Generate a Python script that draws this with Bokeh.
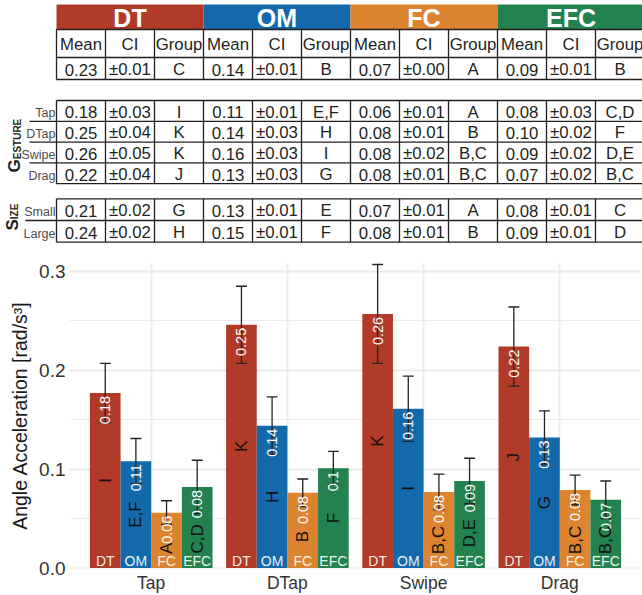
import numpy as np
from bokeh.plotting import figure
from bokeh.models import Range1d, FixedTicker, PrintfTickFormatter
from bokeh.core.properties import value
from bokeh.embed import file_html
from bokeh.resources import INLINE

# ---------------- data ----------------
conditions = ["DT", "OM", "FC", "EFC"]
colors = ["#B23A29", "#1469AA", "#DC842F", "#23824E"]
gestures = ["Tap", "DTap", "Swipe", "Drag"]
sizes = ["Small", "Large"]
col_heads = ["Mean", "CI", "Group"]

# bar chart (per condition, in gesture order)
mean_DT = [0.177, 0.246, 0.257, 0.224]
mean_OM = [0.108, 0.144, 0.161, 0.132]
mean_FC = [0.056, 0.076, 0.077, 0.079]
mean_EFC = [0.082, 0.101, 0.088, 0.069]
ci_DT = [0.030, 0.039, 0.050, 0.040]
ci_OM = [0.023, 0.029, 0.033, 0.027]
ci_FC = [0.012, 0.014, 0.018, 0.015]
ci_EFC = [0.027, 0.017, 0.023, 0.019]
grp_DT = ["I", "K", "K", "J"]
grp_OM = ["E,F", "H", "I", "G"]
grp_FC = ["A", "B", "B,C", "B,C"]
grp_EFC = ["C,D", "F", "D,E", "B,C"]

# table rows (Mean, CI, Group) x (DT, OM, FC, EFC)
row_overall = ["0.23", "±0.01", "C", "0.14", "±0.01", "B", "0.07", "±0.00", "A", "0.09", "±0.01", "B"]
row_tap = ["0.18", "±0.03", "I", "0.11", "±0.01", "E,F", "0.06", "±0.01", "A", "0.08", "±0.03", "C,D"]
row_dtap = ["0.25", "±0.04", "K", "0.14", "±0.03", "H", "0.08", "±0.01", "B", "0.10", "±0.02", "F"]
row_swipe = ["0.26", "±0.05", "K", "0.16", "±0.03", "I", "0.08", "±0.02", "B,C", "0.09", "±0.02", "D,E"]
row_drag = ["0.22", "±0.04", "J", "0.13", "±0.03", "G", "0.08", "±0.01", "B,C", "0.07", "±0.02", "B,C"]
row_small = ["0.21", "±0.02", "G", "0.13", "±0.01", "E", "0.07", "±0.01", "A", "0.08", "±0.01", "C"]
row_large = ["0.24", "±0.02", "H", "0.15", "±0.01", "F", "0.08", "±0.01", "B", "0.09", "±0.01", "D"]

means = [mean_DT, mean_OM, mean_FC, mean_EFC]
cis = [ci_DT, ci_OM, ci_FC, ci_EFC]
grps = [grp_DT, grp_OM, grp_FC, grp_EFC]

FONT = value("Liberation Sans")
INK = "#231F20"
MID = 0.35  # em-box middle above the baseline

# ---------------- table figure ----------------
W, TH = 642, 250
t = figure(width=W, height=TH, x_range=Range1d(0, W), y_range=Range1d(-TH, 0),
           output_backend="svg", toolbar_location=None, x_axis_type=None, y_axis_type=None,
           title=None,
           min_border=0, min_border_left=0, min_border_right=0, min_border_top=0, min_border_bottom=0)
t.grid.visible = False
t.outline_line_color = None

TX0, CW = 56, 49
ncol = 12
col_x = [TX0 + CW * j + CW / 2 for j in range(ncol)]
x_edges = [TX0 + CW * j for j in range(ncol + 1)]
GW = 3 * CW


def Y(v):
    return -v


# header bands
t.quad(left=[TX0 + GW * i for i in range(4)], right=[TX0 + GW * (i + 1) for i in range(4)],
       top=Y(4), bottom=Y(29), fill_color=colors, line_color=None)
t.text(x=[TX0 + GW * i + GW / 2 for i in range(4)], y=Y(17.2), text=conditions,
       text_font=FONT, text_font_style="bold", text_font_size="25px", text_color="white",
       text_align="center", text_baseline="middle")

TFS = 16.8


def draw_block(top, heights, rows, labels=None, label_x0=None):
    edges = [top]
    for h in heights:
        edges.append(edges[-1] + h)
    x0s, y0s, x1s, y1s = [], [], [], []
    for k, e in enumerate(edges):
        left = TX0
        if labels is not None and 0 < k < len(edges) - 1:
            left = label_x0
        x0s.append(left); x1s.append(x_edges[-1]); y0s.append(Y(e)); y1s.append(Y(e))
    for xe in x_edges:
        x0s.append(xe); x1s.append(xe); y0s.append(Y(edges[0])); y1s.append(Y(edges[-1]))
    t.segment(x0=x0s, y0=y0s, x1=x1s, y1=y1s, line_color=INK, line_width=1.3)
    for k, row in enumerate(rows):
        cy = (edges[k] + edges[k + 1]) / 2
        t.text(x=col_x, y=Y(cy + 1.2), text=row, text_font=FONT, text_font_size=f"{TFS}px",
               text_color=INK, text_align="center", text_baseline="middle")
        if labels is not None:
            t.text(x=[55], y=[Y(edges[k + 1] - 8.2)], text=[labels[k]], text_font=FONT,
                   text_font_size="12.5px", text_color="#4D4D4D", text_align="right",
                   text_baseline="middle")
    return edges


draw_block(29, [28, 22], [col_heads * 4, row_overall])
draw_block(100, [20.8] * 4, [row_tap, row_dtap, row_swipe, row_drag], gestures, 29)
draw_block(198.3, [21.7] * 2, [row_small, row_large], sizes, 25)


def small_caps(word, xb, ystart, big=17, small=10):
    # xb: common baseline (glyph tops point left); ystart: where the word begins (bottom)
    first, rest = word[0], word[1:]
    wfirst = {"G": 0.778, "S": 0.667}[first] * big
    t.text(x=[xb - MID * big], y=[Y(ystart)], text=[first], angle=np.pi / 2, text_font=FONT,
           text_font_style="bold", text_font_size=f"{big}px", text_color=INK,
           text_align="left", text_baseline="middle")
    t.text(x=[xb - MID * small], y=[Y(ystart - wfirst)], text=[rest], angle=np.pi / 2,
           text_font=FONT, text_font_style="bold", text_font_size=f"{small}px",
           text_color=INK, text_align="left", text_baseline="middle")


small_caps("GESTURE", 20, 172)
small_caps("SIZE", 17.5, 230)

# ---------------- bar chart ----------------
PH = 345
YMIN, YMAX = -0.0005, 0.309
p = figure(width=W, height=PH, x_range=Range1d(0.4, 4.6), y_range=Range1d(YMIN, YMAX),
           output_backend="svg", toolbar_location=None,
           min_border_left=69, min_border_right=1, min_border_top=12, min_border_bottom=24)
p.outline_line_color = None

cat_x = np.arange(1, len(gestures) + 1)
bw = 0.9 / 4
offsets = [(-1.5 + i) * bw for i in range(4)]
PX = (YMAX - YMIN) / (PH - 12 - 24)  # data units per pixel (vertical)

CHARW = {",": 0.278, "I": 0.278, "J": 0.5}


def tw(s, fs):
    return sum(CHARW.get(c, 0.70 if c.isalpha() else 0.556) for c in s) * fs


VFS = 14.5   # value labels
GFS = 17     # group letters
BFS = 14     # condition names at the bar bottom
for i, cond in enumerate(conditions):
    xs = cat_x + offsets[i]
    m = np.array(means[i])
    c = np.array(cis[i])
    p.vbar(x=xs, top=m, bottom=0, width=bw, fill_color=colors[i], line_color=None)
    lo, hi = m - c, m + c
    p.segment(x0=xs, y0=lo, x1=xs, y1=hi, line_color="#222222", line_width=1.3)
    cap = 0.04
    p.segment(x0=xs - cap, y0=hi, x1=xs + cap, y1=hi, line_color="#222222", line_width=1.3)
    p.segment(x0=xs - cap, y0=lo, x1=xs + cap, y1=lo, line_color="#222222", line_width=1.3)

for i, cond in enumerate(conditions):
    xs = cat_x + offsets[i]
    m = np.array(means[i])
    vlabels = [str(round(v, 2)) for v in means[i]]
    p.text(x=xs, y=m - 3 * PX, text=vlabels, angle=np.pi / 2, text_font=FONT,
           text_font_size=f"{VFS}px", text_color="white", text_align="right",
           text_baseline="middle")
    gy = []
    for v, vl, g in zip(means[i], vlabels, grps[i]):
        mpx = v / PX
        half = tw(g, GFS) / 2
        cpx = min(mpx / 2, max(mpx - (3 + tw(vl, VFS)) - 3 - half, 14 + half))
        gy.append(cpx * PX)
    p.text(x=xs, y=gy, text=grps[i], angle=np.pi / 2, text_font=FONT,
           text_font_size=f"{GFS}px", text_color="#111111", text_align="center",
           text_baseline="middle")
    p.text(x=xs, y=(2.5 + MID * BFS) * PX, text=[cond] * len(xs), text_font=FONT,
           text_font_size=f"{BFS}px", text_color="white", text_alpha=0.92,
           text_align="center", text_baseline="middle")

# axes
p.xaxis.ticker = FixedTicker(ticks=list(cat_x))
p.xaxis.major_label_overrides = {int(k): g for k, g in zip(cat_x, gestures)}
p.yaxis.ticker = FixedTicker(ticks=[0.0, 0.1, 0.2, 0.3], minor_ticks=[0.05, 0.15, 0.25])
p.yaxis.formatter = PrintfTickFormatter(format="%.1f")
p.yaxis.axis_label = "Angle Acceleration [rad/s³]"
for ax in p.axis:
    ax.axis_line_color = None
    ax.major_tick_line_color = None
    ax.minor_tick_line_color = None
    ax.major_tick_out = 0
    ax.major_tick_in = 0
    ax.minor_tick_out = 0
    ax.major_label_text_font = "Liberation Sans"
    ax.major_label_text_color = "#333333"
    ax.axis_label_text_font = "Liberation Sans"
p.xaxis.major_label_text_font_size = "17.5px"
p.xaxis.major_label_standoff = 4
p.yaxis.major_label_text_font_size = "19px"
p.yaxis.major_label_standoff = 4
p.yaxis.axis_label_text_font_size = "19.5px"
p.yaxis.axis_label_text_font_style = "normal"
p.yaxis.axis_label_text_color = "#1A1A1A"
p.yaxis.axis_label_standoff = 5

p.xgrid.ticker = FixedTicker(ticks=list(cat_x))
p.xgrid.grid_line_color = "#EBEBEB"
p.xgrid.grid_line_width = 1.8
p.ygrid.grid_line_color = "#EBEBEB"
p.ygrid.grid_line_width = 1.8
p.ygrid.minor_grid_line_color = "#EBEBEB"
p.ygrid.minor_grid_line_width = 1.0

# two separate roots (stacked), so that their frames are not aligned to each other
open("out.html", "w").write(file_html([t, p], INLINE))
